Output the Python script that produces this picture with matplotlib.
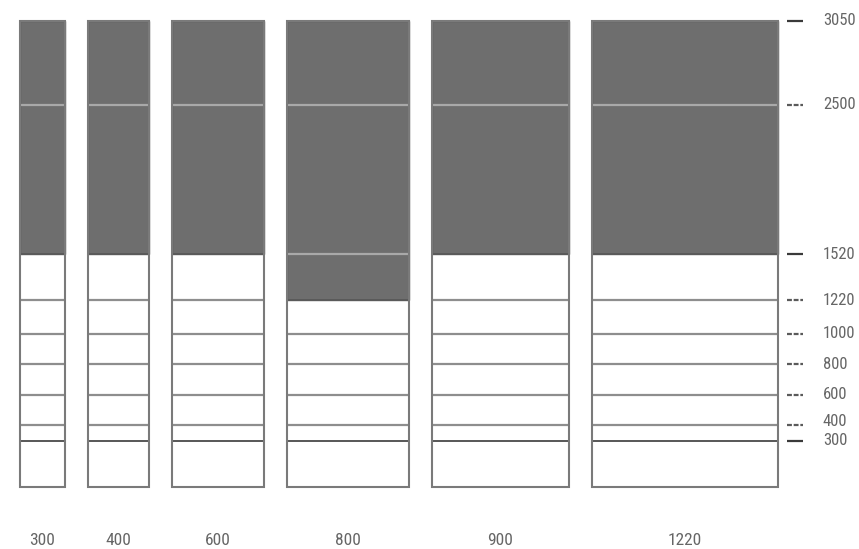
import matplotlib
matplotlib.use("Agg")
import matplotlib.pyplot as plt
from matplotlib.patches import Rectangle
from matplotlib import font_manager

# ---- data ----
widths = [300, 400, 600, 800, 900, 1220]          # column widths (mm)
width_labels = ["300", "400", "600", "800", "900", "1220"]
heights = [300, 400, 600, 800, 1000, 1220, 1520, 2500, 3050]   # height divisions (mm)
height_labels = ["300", "400", "600", "800", "1000", "1220", "1520", "2500", "3050"]
dark_from = [1520, 1520, 1520, 1220, 1520, 1520]   # shaded region starts here, up to max height
max_height = 3050

# ---- style / layout ----
names = {f.name for f in font_manager.fontManager.ttflist}
fam = ["Liberation Sans Narrow", "Arial Narrow", "Arimo Narrow", "Roboto Condensed",
       "PT Sans Narrow", "Archivo Narrow", "Liberation Sans", "DejaVu Sans"]
fam = [f for f in fam if f in names] or ["DejaVu Sans"]
plt.rcParams["font.family"] = fam

gap = 150
outline = "#7a7a7a"
fill_dark = "#6e6e6e"

fig = plt.figure(figsize=(8.59, 5.49), dpi=100)
ax = fig.add_axes([0, 0, 1, 1])
ax.set_xlim(-128, 5498)
ax.set_ylim(-409, 3186)
ax.axis("off")

x = 0
centers = []
for w, d in zip(widths, dark_from):
    ax.add_patch(Rectangle((x, d), w, max_height - d, facecolor=fill_dark,
                           edgecolor="#5e5e5e", lw=1.0, zorder=1))
    for h in heights[:-1]:
        if h > d:
            col, lw = "#a9a9a9", 1.6
        elif h == d:
            col, lw = "#5a5a5a", 1.4
        elif h == heights[0]:
            col, lw = "#4a4a4a", 1.3
        else:
            col, lw = "#8e8e8e", 1.6
        ax.plot([x, x + w], [h, h], color=col, lw=lw, solid_capstyle="butt", zorder=2)
    if d < heights[-3]:
        # dividing line inside the shaded area
        pass
    ax.add_patch(Rectangle((x, 0), w, max_height, facecolor="none",
                           edgecolor=outline, lw=1.5, zorder=3))
    centers.append(x + w / 2)
    x += w + gap

for c, lab in zip(centers, width_labels):
    ax.text(c, -352, lab, ha="center", va="center", fontsize=12.5, color="#666666")

tick_x0, tick_x1, label_x = 5024, 5131, 5262
solid = {3050, 1520, 300}
for h, lab in zip(heights, height_labels):
    if h in solid:
        ax.plot([tick_x0, tick_x1], [h, h], color="#3a3a3a", lw=1.6, solid_capstyle="butt")
    else:
        ax.plot([tick_x0, tick_x1], [h, h], color="#5a5a5a", lw=1.6, linestyle=(0, (2.2, 0.8)))
    dy = 3 if lab == "400" else 0
    ax.annotate(lab, (label_x, h), xytext=(0, dy), textcoords="offset points",
                ha="left", va="center", fontsize=12, color="#666666")

fig.savefig("out.png", dpi=100)
